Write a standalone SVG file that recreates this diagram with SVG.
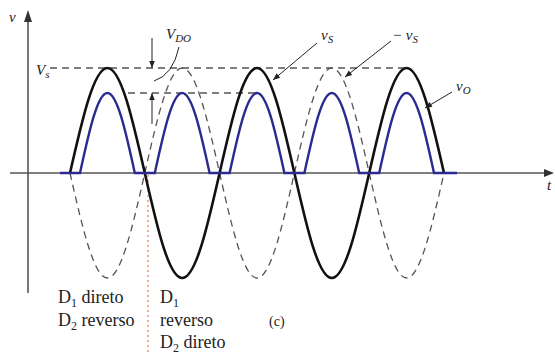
<svg xmlns="http://www.w3.org/2000/svg" width="555" height="355" viewBox="0 0 555 355">
<style>
.axis{stroke:#555;stroke-width:1.6;fill:none}
.dash{stroke:#555;stroke-width:1.3;fill:none;stroke-dasharray:7,5}
.vs{stroke:#111;stroke-width:2.6;fill:none}
.vo{stroke:#2a2a90;stroke-width:2.4;fill:none}
.lead{stroke:#222;stroke-width:1;fill:none}
.lbl{font-family:"Liberation Serif",serif;font-style:italic;font-size:15px;fill:#222}
.sub{font-size:11px}
.txt{font-family:"Liberation Serif",serif;font-size:18px;fill:#222}
.tsub{font-size:12px}
</style>
<defs>
<marker id="ah" viewBox="0 0 10 10" refX="10" refY="5" markerWidth="9" markerHeight="7" markerUnits="userSpaceOnUse" orient="auto">
<path d="M0,1 L10,5 L0,9 Z" fill="#222"/>
</marker>
</defs>
<rect width="555" height="355" fill="#fff"/>
<g id="axes">
<path class="axis" d="M10,173 H546"/>
<path d="M544,169 L554,173 L544,177 Z" fill="#333"/>
<path class="axis" d="M28,293 V20"/>
<path d="M24,22 L28,10 L32,22 Z" fill="#333"/>
<text class="lbl" x="9" y="22">v</text>
<text class="lbl" x="547" y="190">t</text>
</g>
<g id="references">
<path class="dash" d="M50,68 H406"/>
<path class="dash" d="M128,93 H257"/>
<path d="M148,175 V355" stroke="#e06a4a" stroke-width="1.1" stroke-dasharray="2,3" fill="none"/>
</g>
<g id="neg-vs">
<path class="dash" d="M70,173 c12.2,53.8 23.870,105 37.4,105 c13.53,0 25.2,-51.2 37.4,-105 c12.2,-53.8 23.87,-105 37.4,-105 c13.53,0 25.2,51.2 37.4,105 c12.2,53.8 23.87,105 37.4,105 c13.53,0 25.2,-51.2 37.4,-105 c12.2,-53.8 23.87,-105 37.4,-105 c13.53,0 25.2,51.2 37.4,105 c12.2,53.8 23.87,105 37.4,105 c13.53,0 25.2,-51.2 37.4,-105"/>
</g>
<g id="vs">
<path class="vs" d="M70,173 c12.2,-53.8 23.87,-105 37.4,-105 c13.53,0 25.2,51.2 37.4,105 c12.2,53.8 23.87,105 37.4,105 c13.53,0 25.2,-51.2 37.4,-105 c12.2,-53.8 23.87,-105 37.4,-105 c13.53,0 25.2,51.2 37.4,105 c12.2,53.8 23.87,105 37.4,105 c13.53,0 25.2,-51.2 37.4,-105 c12.2,-53.8 23.87,-105 37.4,-105 c13.53,0 25.2,51.2 37.4,105"/>
</g>
<g id="vo">
<path class="vo" d="M60,173 H80 c8.94,-40.98 17.48,-80 27.4,-80 c9.92,0 18.46,39.02 27.4,80 h20 c8.94,-40.98 17.48,-80 27.4,-80 c9.92,0 18.46,39.02 27.4,80 h20 c8.94,-40.98 17.48,-80 27.4,-80 c9.92,0 18.46,39.02 27.4,80 h20 c8.94,-40.98 17.48,-80 27.4,-80 c9.92,0 18.46,39.02 27.4,80 h20 c8.94,-40.98 17.48,-80 27.4,-80 c9.92,0 18.46,39.02 27.4,80 H457"/>
</g>
<g id="connectors">
<path class="lead" d="M152,38 V68" marker-end="url(#ah)"/>
<path class="lead" d="M152,124 V93" marker-end="url(#ah)"/>
<path class="lead" d="M179,47 Q173,75 154,81"/>
<path class="lead" d="M317,43 L273,80" marker-end="url(#ah)"/>
<path class="lead" d="M391,41 L345,77" marker-end="url(#ah)"/>
<path class="lead" d="M452,92 L425,108" marker-end="url(#ah)"/>
</g>
<g id="labels">
<text class="lbl" x="36" y="75">V<tspan class="sub" dy="3">s</tspan></text>
<text class="lbl" x="166" y="39">V<tspan class="sub" dy="3">DO</tspan></text>
<text class="lbl" x="321" y="40">v<tspan class="sub" dy="3">S</tspan></text>
<text class="lbl" x="392" y="40">− v<tspan class="sub" dy="3">S</tspan></text>
<text class="lbl" x="456" y="91">v<tspan class="sub" dy="3">O</tspan></text>
</g>
<g id="notes">
<text class="txt" x="58" y="303">D<tspan class="tsub" dy="4">1</tspan><tspan dy="-4"> direto</tspan></text>
<text class="txt" x="58" y="326">D<tspan class="tsub" dy="4">2</tspan><tspan dy="-4"> reverso</tspan></text>
<text class="txt" x="160" y="303">D<tspan class="tsub" dy="4">1</tspan></text>
<text class="txt" x="160" y="326">reverso</text>
<text class="txt" x="160" y="348">D<tspan class="tsub" dy="4">2</tspan><tspan dy="-4"> direto</tspan></text>
<text class="txt" x="269" y="326" style="font-size:14px">(c)</text>
</g>
</svg>
